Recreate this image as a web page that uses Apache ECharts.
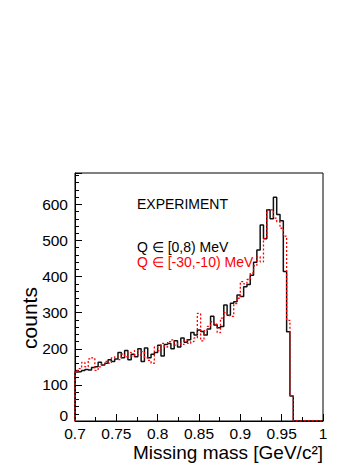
<!DOCTYPE html>
<html>
<head>
<meta charset="utf-8">
<script src="https://cdn.jsdelivr.net/npm/echarts@6/dist/echarts.min.js"></script>
<style>
html, body { margin: 0; padding: 0; background: #fff; }
#chart { width: 358px; height: 463px; }
</style>
</head>
<body>
<div id="chart"></div>
<script>
// histogram binning (GeV/c^2)
const binLow = 0.7;
const binWidth = 0.004;
const xMax = 1.0;

// EXPERIMENT, Q in [0,8) MeV
const countsQ0 = [
  136, 137, 140, 143, 141, 148, 150, 163, 155, 160,
  170, 165, 172, 190, 175, 195, 170, 185, 178, 200,
  165, 202, 175, 185, 190, 210, 180, 212, 215, 200,
  222, 205, 230, 218, 225, 245, 238, 252, 248, 238,
  255, 290, 266, 258, 262, 321, 293, 326, 330, 349,
  345, 372, 378, 404, 440, 474, 543, 505, 585, 560,
  620, 572, 555, 414, 247, 69
];

// Q in [-30,-10) MeV
const countsQneg = [
  140, 145, 162, 150, 172, 175, 140, 150, 158, 165,
  160, 175, 178, 170, 185, 178, 190, 180, 195, 182,
  192, 175, 168, 160, 205, 195, 215, 205, 220, 225,
  210, 215, 212, 225, 215, 220, 230, 298, 222, 250,
  262, 275, 268, 245, 285, 300, 292, 290, 325, 340,
  386, 380, 392, 410, 430, 455, 441, 506, 585, 585,
  562, 552, 534, 512, 279, 71
];

const yMax = 687;

// step outline: one point per right bin edge, closed to 0 at both ends
function toSteps(counts) {
  const pts = [[binLow, 0]];
  counts.forEach((c, i) => {
    pts.push([+(binLow + (i + 1) * binWidth).toFixed(3), c]);
  });
  pts.push([xMax, 0]);
  return pts;
}

const chart = echarts.init(document.getElementById('chart'), null, { renderer: 'svg' });

const font = 'Liberation Sans, Arial, Helvetica, sans-serif';

const option = {
  animation: false,
  backgroundColor: '#fff',
  grid: {
    left: 75,
    right: 35,
    top: 173,
    bottom: 42,
    containLabel: false,
    outerBoundsMode: 'none',
    show: true,
    borderColor: '#000',
    borderWidth: 1
  },
  xAxis: {
    type: 'value',
    min: 0.7,
    max: 1.0,
    interval: 0.05,
    axisLine: { show: true, lineStyle: { color: '#000', width: 1 } },
    axisTick: { show: true, inside: true, length: 7, lineStyle: { color: '#000' } },
    minorTick: { show: true, splitNumber: 2, length: 4, lineStyle: { color: '#000' } },
    splitLine: { show: false },
    axisLabel: {
      fontFamily: font,
      fontSize: 15.5,
      color: '#000',
      margin: 4,
      formatter: v => String(parseFloat(v.toFixed(2)))
    }
  },
  yAxis: {
    type: 'value',
    min: 0,
    max: yMax,
    interval: 100,
    splitLine: { show: false },
    axisLine: { show: true, lineStyle: { color: '#000', width: 1 } },
    axisTick: { show: true, inside: true, length: 7, lineStyle: { color: '#000' } },
    minorTick: { show: true, splitNumber: 5, length: 4, lineStyle: { color: '#000' } },
    axisLabel: {
      fontFamily: font,
      fontSize: 15.5,
      color: '#000',
      margin: 7,
      showMaxLabel: false,
      // ROOT lifts the zero label a little off the x labels
      formatter: v => (v === 0 ? '{z|0}' : String(v)),
      rich: {
        z: { fontFamily: font, fontSize: 15.5, color: '#000', padding: [0, 0, 12, 0] }
      }
    }
  },
  graphic: [
    {
      type: 'text', x: 29, y: 318, rotation: Math.PI / 2,
      style: {
        text: 'counts', fontFamily: font, fontSize: 21, fill: '#000',
        align: 'center', verticalAlign: 'middle'
      }
    },
    {
      type: 'text', x: 323, y: 452.5,
      style: {
        text: 'Missing mass [GeV/c\u00b2]',
        fontFamily: font, fontSize: 19, fill: '#000',
        align: 'right', verticalAlign: 'middle'
      }
    },
    {
      type: 'text', left: 137, top: 197,
      style: { text: 'EXPERIMENT', fontFamily: font, fontSize: 14, fill: '#000' }
    },
    {
      type: 'text', left: 137, top: 240,
      style: { text: 'Q \u2208 [0,8) MeV', fontFamily: font, fontSize: 14, fill: '#000' }
    },
    {
      type: 'text', left: 137, top: 255,
      style: { text: 'Q \u2208 [-30,-10) MeV', fontFamily: font, fontSize: 14, fill: '#ff0000' }
    }
  ],
  series: [
    {
      name: 'Q in [0,8) MeV',
      type: 'line',
      step: 'start',
      symbol: 'none',
      data: toSteps(countsQ0),
      lineStyle: { color: '#111', width: 1.5 }
    },
    {
      name: 'Q in [-30,-10) MeV',
      type: 'line',
      step: 'start',
      symbol: 'none',
      data: toSteps(countsQneg),
      lineStyle: { color: '#ff0000', width: 1.3, type: [2, 2] }
    }
  ]
};

chart.setOption(option);
</script>
</body>
</html>
